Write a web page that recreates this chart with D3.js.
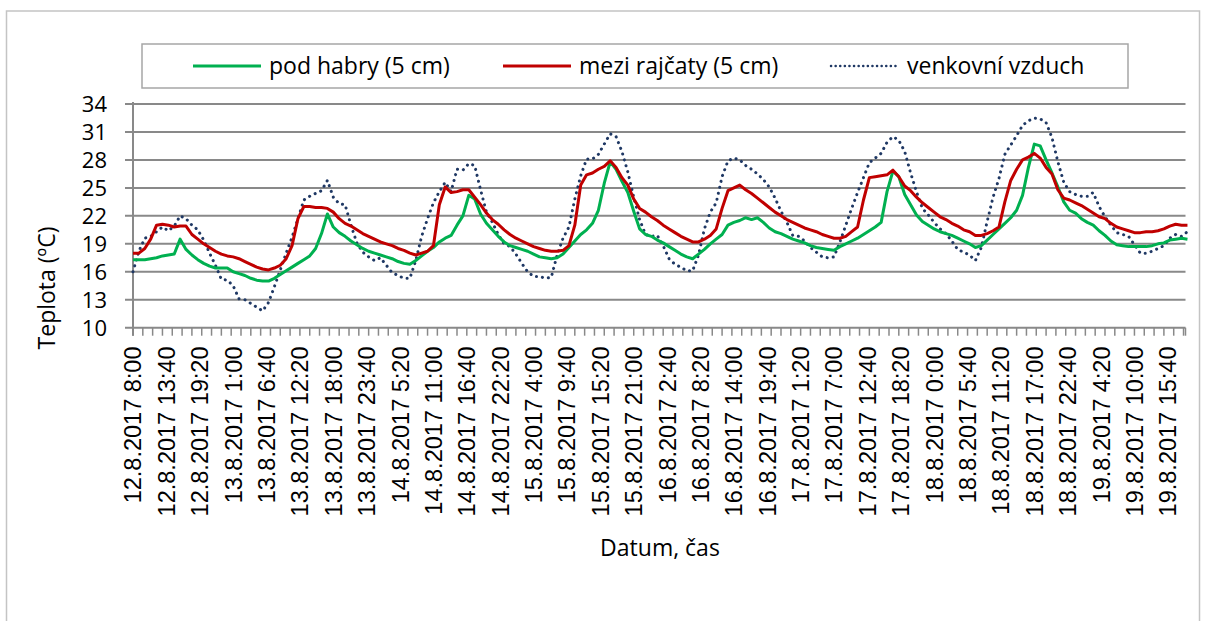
<!DOCTYPE html>
<html><head><meta charset="utf-8">
<script src="https://cdn.jsdelivr.net/npm/d3@7"></script>
<style>body{margin:0;background:#fff;overflow:hidden}</style>
</head><body><svg id="c" width="1206" height="621"></svg>
<script>
// Data: hourly readings starting 12.8.2017 8:00
const stepMinutes = 60;
const podHabry = [
17.3,17.3,17.3,17.4,17.5,17.7,17.8,17.9,19.5,18.4,
17.8,17.3,16.9,16.6,16.4,16.4,16.4,16.0,15.8,15.6,
15.3,15.1,15.0,15.0,15.3,15.7,16.1,16.5,16.9,17.3,
17.7,18.5,20.1,22.2,20.8,20.2,19.8,19.3,18.9,18.5,
18.2,18.0,17.8,17.6,17.4,17.1,16.9,16.8,17.2,17.7,
18.2,18.6,19.2,19.6,19.9,21.0,22.0,24.2,23.8,22.2,
21.2,20.5,19.8,19.2,18.8,18.6,18.4,18.2,17.9,17.6,
17.5,17.4,17.5,17.9,18.6,19.3,20.0,20.5,21.2,22.6,
25.5,27.8,27.0,25.7,24.5,22.5,20.6,20.0,19.8,19.4,
19.1,18.7,18.3,17.9,17.6,17.4,17.9,18.4,19.0,19.5,
20.0,21.0,21.3,21.5,21.8,21.6,21.8,21.3,20.7,20.3,
20.1,19.8,19.5,19.3,19.1,18.8,18.6,18.5,18.4,18.3,
18.7,19.0,19.3,19.6,20.0,20.4,20.8,21.3,24.6,26.8,
26.2,24.3,23.2,22.1,21.4,21.0,20.6,20.3,20.1,19.9,
19.6,19.3,19.0,18.6,18.8,19.4,20.0,20.6,21.2,21.8,
22.6,24.2,27.2,29.7,29.5,28.0,26.6,25.1,23.5,22.6,
22.3,21.7,21.3,21.0,20.4,19.9,19.3,18.9,18.8,18.7,
18.7,18.7,18.7,18.8,19.0,19.1,19.4,19.5,19.6,19.5];
const meziRajcaty = [
18.0,18.0,18.5,19.5,21.0,21.1,21.0,20.8,20.9,20.9,
20.0,19.5,19.0,18.6,18.2,17.9,17.7,17.6,17.4,17.1,
16.8,16.5,16.3,16.2,16.4,16.7,17.4,18.8,21.7,23.0,
23.0,22.9,22.9,22.8,22.4,21.7,21.2,20.9,20.5,20.1,
19.8,19.5,19.2,19.0,18.8,18.5,18.3,18.0,17.8,18.0,
18.2,18.8,23.2,25.1,24.5,24.6,24.8,24.8,24.0,23.2,
22.3,21.6,21.1,20.5,20.0,19.6,19.3,19.0,18.7,18.5,
18.3,18.2,18.2,18.3,18.8,21.0,25.3,26.4,26.6,27.0,
27.3,27.9,27.2,26.1,25.3,23.8,22.8,22.4,21.9,21.5,
21.0,20.6,20.2,19.8,19.5,19.2,19.2,19.5,19.9,20.6,
22.8,24.7,25.0,25.3,24.8,24.4,23.9,23.4,22.9,22.4,
22.0,21.6,21.3,21.0,20.7,20.5,20.3,20.0,19.8,19.6,
19.6,19.8,20.3,20.8,23.7,26.1,26.2,26.3,26.4,26.9,
26.2,25.2,24.7,24.0,23.4,22.9,22.4,21.9,21.6,21.2,
20.9,20.5,20.3,19.9,19.9,20.1,20.4,20.8,23.5,25.8,
27.0,28.0,28.3,28.7,28.2,27.2,26.5,24.8,23.9,23.7,
23.4,23.1,22.7,22.3,21.9,21.7,21.2,20.8,20.6,20.4,
20.2,20.2,20.3,20.3,20.4,20.6,20.9,21.1,21.0,21.0];
const venkovniVzduch = [
16.0,18.2,19.6,19.8,20.3,20.8,20.4,20.9,22.0,21.7,
21.0,20.5,19.4,18.0,16.7,15.2,15.1,14.5,13.1,13.0,
12.6,12.2,11.8,12.7,14.4,16.2,18.0,19.7,21.7,23.7,
24.1,24.4,24.7,25.8,24.0,23.3,23.2,21.0,19.1,18.1,
17.6,17.2,17.5,16.7,15.9,15.6,15.3,15.3,17.2,19.8,
21.7,23.4,24.6,25.6,24.6,27.0,26.9,27.6,27.4,24.8,
22.4,21.3,20.0,19.0,18.7,17.9,16.9,16.0,15.5,15.5,
15.3,15.4,17.8,19.6,20.8,23.8,26.3,28.1,28.1,28.6,
29.7,30.8,30.5,28.9,26.7,24.0,21.6,20.0,19.8,19.9,
18.8,17.4,16.8,16.5,16.1,16.1,17.8,20.6,22.4,23.4,
26.2,27.9,28.2,28.0,27.4,27.0,26.5,25.9,25.1,23.9,
22.5,21.3,19.9,19.8,19.3,18.6,18.1,17.6,17.5,17.6,
19.2,21.0,22.8,24.5,26.1,27.7,28.2,28.7,29.9,30.5,
30.1,28.9,26.6,24.6,22.8,22.1,21.3,20.6,20.1,19.3,
18.4,18.1,17.8,17.2,18.6,21.4,24.0,26.0,28.6,29.6,
30.6,31.7,32.2,32.5,32.4,32.0,30.4,27.8,25.6,24.6,
24.3,24.1,24.1,24.5,23.0,21.9,21.0,20.2,20.0,19.8,
18.9,18.0,18.0,18.2,18.5,18.8,19.6,20.0,19.8,20.3];
const seriesNames = ["pod habry (5 cm)", "mezi rajčaty (5 cm)", "venkovní vzduch"];
const xTickLabels = [
"12.8.2017 8:00","12.8.2017 13:40","12.8.2017 19:20","13.8.2017 1:00","13.8.2017 6:40",
"13.8.2017 12:20","13.8.2017 18:00","13.8.2017 23:40","14.8.2017 5:20","14.8.2017 11:00",
"14.8.2017 16:40","14.8.2017 22:20","15.8.2017 4:00","15.8.2017 9:40","15.8.2017 15:20",
"15.8.2017 21:00","16.8.2017 2:40","16.8.2017 8:20","16.8.2017 14:00","16.8.2017 19:40",
"17.8.2017 1:20","17.8.2017 7:00","17.8.2017 12:40","17.8.2017 18:20","18.8.2017 0:00",
"18.8.2017 5:40","18.8.2017 11:20","18.8.2017 17:00","18.8.2017 22:40","19.8.2017 4:20",
"19.8.2017 10:00","19.8.2017 15:40"];
const labelStepMinutes = 340;
const tickStepMinutes = 100;
const axisEndMinutes = 10720;
const yTicks = [10,13,16,19,22,25,28,31,34];
const yTitle = "Teplota (ºC)";
const xTitle = "Datum, čas";

const colors = ["#00B050", "#C00000", "#1F3864"];
const svg = d3.select("#c");
const L = 133, R = 1185.5, T = 104, B = 327.7;
const x = d3.scaleLinear().domain([0, axisEndMinutes]).range([L, R]);
const y = d3.scaleLinear().domain([10, 34]).range([B, T]);
const grid = "#898989";

// outer frame
svg.append("rect").attr("x", 6.5).attr("y", 11).attr("width", 1193).attr("height", 700)
  .attr("fill", "none").attr("stroke", "#c4c4c4").attr("stroke-width", 1.5);

// gridlines
svg.append("g").selectAll("line").data(yTicks).join("line")
  .attr("x1", L - 8).attr("x2", R).attr("y1", d => y(d)).attr("y2", d => y(d))
  .attr("stroke", grid).attr("stroke-width", 2);
// y axis line
svg.append("line").attr("x1", L).attr("x2", L).attr("y1", T - 2).attr("y2", B + 8)
  .attr("stroke", grid).attr("stroke-width", 2);
// x ticks
const tickVals = d3.range(0, axisEndMinutes + 1, tickStepMinutes).concat([axisEndMinutes]);
svg.append("g").selectAll("line").data(tickVals).join("line")
  .attr("x1", d => x(d)).attr("x2", d => x(d)).attr("y1", B).attr("y2", B + 8)
  .attr("stroke", grid).attr("stroke-width", 1.5);

// y tick labels
svg.append("g").selectAll("text").data(yTicks).join("text")
  .attr("x", 107).attr("y", d => y(d)).attr("dy", "0.36em").attr("text-anchor", "end")
  .attr("font-family", "Open Sans").attr("font-size", 22).attr("fill", "#000").text(d => d);

// x tick labels
svg.append("g").selectAll("text").data(xTickLabels).join("text")
  .attr("transform", (d, i) => `translate(${x(i * labelStepMinutes)},346.5) rotate(-90)`)
  .attr("dy", "0.36em").attr("text-anchor", "end")
  .attr("font-family", "Liberation Sans").attr("font-size", 23.5).attr("fill", "#000").text(d => d);

// axis titles
svg.append("text").attr("transform", "translate(47,288) rotate(-90)").attr("dy", "0.36em")
  .attr("text-anchor", "middle").attr("font-family", "Open Sans").attr("font-size", 23)
  .attr("fill", "#000").text(yTitle);
svg.append("text").attr("x", 660).attr("y", 556).attr("text-anchor", "middle")
  .attr("font-family", "Open Sans").attr("font-size", 23).attr("fill", "#000").text(xTitle);

// series
const allSeries = [podHabry, meziRajcaty, venkovniVzduch];
const line = d3.line().x((d, i) => x(i * stepMinutes)).y(d => y(d));
svg.append("path").datum(venkovniVzduch).attr("d", line).attr("fill", "none")
  .attr("stroke", colors[2]).attr("stroke-width", 3).attr("stroke-linecap", "round")
  .attr("stroke-dasharray", "0.1 6");
svg.append("path").datum(podHabry).attr("d", line).attr("fill", "none")
  .attr("stroke", colors[0]).attr("stroke-width", 3).attr("stroke-linejoin", "round");
svg.append("path").datum(meziRajcaty).attr("d", line).attr("fill", "none")
  .attr("stroke", colors[1]).attr("stroke-width", 3).attr("stroke-linejoin", "round");

// legend
svg.append("rect").attr("x", 142).attr("y", 44).attr("width", 986).attr("height", 44)
  .attr("fill", "#fff").attr("stroke", "#a6a6a6").attr("stroke-width", 1.5);
const legX = [193, 503, 831];
const lg = svg.append("g").selectAll("g").data(seriesNames).join("g")
  .attr("transform", (d, i) => `translate(${legX[i]},66)`);
lg.append("line").attr("x1", 0).attr("x2", (d, i) => i === 2 ? 65 : 68).attr("y1", 0).attr("y2", 0)
  .attr("stroke", (d, i) => colors[i]).attr("stroke-width", (d, i) => i === 2 ? 2.5 : 3)
  .attr("stroke-linecap", (d, i) => i === 2 ? "round" : "butt")
  .attr("stroke-dasharray", (d, i) => i === 2 ? "0.1 4.5" : null);
lg.append("text").attr("x", (d, i) => i === 2 ? 76 : 76).attr("y", 0).attr("dy", "0.33em")
  .attr("font-family", "Open Sans").attr("font-size", 23).attr("fill", "#000").text(d => d);
</script></body></html>
